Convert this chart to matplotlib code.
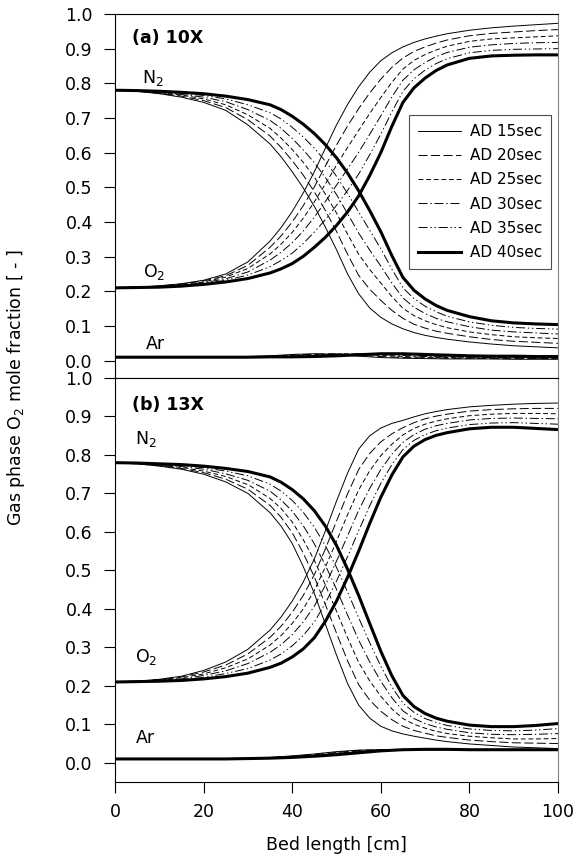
import numpy as np
import matplotlib
matplotlib.use('Agg')
import matplotlib.pyplot as plt

plt.rcParams['font.family'] = 'DejaVu Sans'
plt.rcParams['mathtext.default'] = 'regular'
plt.rcParams['lines.scale_dashes'] = False

# bed position (cm); finer spacing through the breakthrough front
x_cm = [0, 5, 10, 15, 20, 25, 30, 35, 37.5, 40, 42.5, 45, 47.5, 50, 52.5, 55, 57.5,
        60, 62.5, 65, 67.5, 70, 72.5, 75, 80, 85, 90, 95, 100]
# argon is flat, coarser grid is enough
x_ar = [0, 5, 10, 15, 20, 25, 30, 35, 40, 45, 50, 55, 60, 65, 70, 75, 80, 85, 90, 95, 100]

labels = ['AD 15sec', 'AD 20sec', 'AD 25sec', 'AD 30sec', 'AD 35sec', 'AD 40sec']

# (a) 10X -- rows follow the adsorption times above
n2_10x = [
    [.780, .777, .770, .760, .745, .722, .680, .625, .588, .545, .498, .445, .385, .320, .250, .193, .152, .125, .106, .092, .081, .073, .067, .062, .054, .048, .043, .040, .037],
    [.780, .777, .771, .763, .750, .730, .695, .648, .615, .577, .535, .487, .433, .373, .307, .246, .206, .174, .145, .122, .105, .094, .085, .079, .069, .061, .056, .053, .050],
    [.780, .778, .773, .766, .755, .738, .709, .670, .642, .609, .572, .529, .480, .426, .365, .307, .263, .224, .185, .151, .130, .115, .104, .095, .083, .075, .069, .066, .064],
    [.780, .778, .774, .768, .760, .747, .724, .693, .670, .641, .608, .571, .528, .479, .424, .368, .319, .273, .224, .181, .154, .136, .122, .112, .098, .088, .083, .080, .077],
    [.780, .779, .776, .771, .765, .755, .738, .715, .697, .673, .645, .613, .575, .532, .482, .429, .376, .323, .264, .210, .179, .157, .141, .128, .112, .102, .096, .093, .091],
    [.780, .779, .777, .774, .770, .763, .753, .738, .724, .705, .682, .655, .623, .585, .541, .490, .433, .372, .303, .240, .203, .178, .159, .145, .127, .115, .109, .106, .104],
]
o2_10x = [
    [.210, .212, .216, .222, .232, .250, .285, .345, .384, .430, .484, .545, .613, .680, .739, .790, .832, .865, .888, .905, .918, .928, .936, .943, .953, .960, .965, .969, .973],
    [.210, .212, .215, .221, .230, .245, .275, .327, .360, .400, .447, .501, .562, .622, .677, .727, .772, .812, .846, .873, .892, .905, .916, .925, .937, .944, .948, .952, .955],
    [.210, .212, .214, .219, .227, .241, .266, .308, .336, .370, .411, .458, .510, .564, .615, .664, .713, .759, .803, .841, .866, .883, .896, .907, .921, .928, .931, .934, .937],
    [.210, .211, .214, .218, .225, .236, .256, .290, .313, .340, .374, .414, .459, .506, .553, .601, .653, .706, .761, .809, .839, .860, .877, .889, .904, .911, .915, .917, .918],
    [.210, .211, .213, .216, .222, .232, .247, .271, .289, .310, .338, .371, .407, .448, .491, .538, .594, .653, .718, .777, .813, .838, .857, .871, .888, .895, .898, .899, .900],
    [.210, .211, .212, .215, .220, .227, .237, .253, .265, .280, .301, .327, .356, .390, .429, .475, .534, .600, .676, .745, .787, .815, .837, .853, .872, .879, .881, .882, .882],
]
ar_10x = [
    [.010, .010, .010, .010, .010, .011, .012, .014, .018, .020, .018, .013, .009, .007, .006, .005, .005, .005, .004, .004, .004],
    [.010, .010, .010, .010, .010, .011, .011, .013, .016, .019, .020, .016, .012, .009, .008, .007, .007, .006, .006, .006, .006],
    [.010, .010, .010, .010, .010, .010, .011, .012, .014, .017, .020, .019, .015, .012, .010, .009, .008, .008, .008, .007, .007],
    [.010, .010, .010, .010, .010, .010, .011, .011, .012, .015, .018, .020, .018, .015, .012, .011, .010, .009, .009, .009, .009],
    [.010, .010, .010, .010, .010, .010, .010, .011, .012, .013, .016, .019, .020, .018, .015, .013, .012, .011, .011, .010, .010],
    [.010, .010, .010, .010, .010, .010, .010, .011, .011, .012, .014, .017, .020, .020, .018, .016, .014, .013, .013, .012, .012],
]

# (b) 13X
n2_13x = [
    [.780, .777, .771, .763, .750, .730, .700, .650, .615, .570, .510, .440, .360, .280, .206, .150, .116, .095, .083, .075, .069, .064, .059, .055, .049, .045, .041, .039, .037],
    [.780, .777, .772, .765, .754, .737, .711, .669, .638, .598, .545, .483, .411, .337, .265, .203, .163, .134, .112, .095, .084, .077, .070, .066, .059, .055, .052, .051, .050],
    [.780, .778, .773, .768, .758, .744, .723, .687, .661, .626, .580, .526, .462, .394, .325, .261, .213, .173, .140, .115, .100, .090, .082, .076, .069, .065, .062, .062, .063],
    [.780, .778, .775, .770, .763, .751, .734, .706, .683, .654, .616, .569, .513, .451, .384, .319, .262, .212, .169, .135, .115, .102, .093, .087, .078, .074, .073, .074, .076],
    [.780, .779, .776, .773, .767, .758, .746, .724, .706, .682, .651, .612, .564, .508, .444, .377, .312, .251, .197, .155, .131, .115, .105, .097, .088, .084, .083, .085, .089],
    [.780, .779, .777, .775, .771, .765, .757, .743, .729, .710, .686, .655, .615, .565, .503, .435, .362, .290, .226, .175, .146, .128, .116, .108, .098, .094, .094, .097, .102],
]
o2_13x = [
    [.210, .212, .217, .225, .240, .262, .295, .345, .379, .420, .470, .530, .603, .680, .753, .815, .850, .870, .882, .890, .899, .907, .913, .918, .925, .929, .932, .934, .935],
    [.210, .212, .216, .223, .236, .254, .283, .326, .355, .391, .435, .489, .556, .628, .699, .762, .804, .834, .855, .871, .884, .894, .901, .906, .914, .918, .920, .921, .921],
    [.210, .212, .215, .221, .231, .247, .270, .306, .331, .362, .400, .448, .509, .576, .645, .709, .759, .798, .828, .852, .869, .880, .888, .894, .902, .906, .908, .908, .907],
    [.210, .211, .214, .218, .227, .239, .258, .287, .307, .333, .366, .407, .462, .524, .590, .656, .713, .762, .802, .833, .853, .867, .876, .882, .891, .895, .896, .895, .894],
    [.210, .211, .213, .216, .222, .232, .245, .267, .283, .304, .331, .366, .415, .472, .536, .603, .668, .726, .775, .814, .838, .853, .863, .870, .879, .883, .884, .882, .880],
    [.210, .211, .212, .214, .218, .224, .233, .248, .259, .275, .296, .325, .368, .420, .482, .550, .622, .690, .748, .795, .823, .840, .851, .858, .868, .872, .872, .869, .866],
]
ar_13x = [
    [.010, .010, .010, .010, .010, .011, .012, .014, .018, .023, .029, .033, .034, .034, .034, .034, .034, .034, .033, .033, .033],
    [.010, .010, .010, .010, .010, .011, .012, .013, .017, .021, .027, .032, .034, .034, .034, .034, .034, .034, .034, .033, .033],
    [.010, .010, .010, .010, .010, .010, .011, .013, .016, .020, .025, .030, .033, .034, .034, .034, .034, .034, .034, .034, .034],
    [.010, .010, .010, .010, .010, .010, .011, .012, .015, .019, .024, .029, .032, .034, .035, .035, .034, .034, .034, .034, .034],
    [.010, .010, .010, .010, .010, .010, .011, .012, .014, .018, .022, .027, .031, .034, .035, .035, .034, .034, .034, .034, .034],
    [.010, .010, .010, .010, .010, .010, .011, .012, .014, .017, .021, .026, .031, .034, .035, .035, .034, .034, .034, .034, .034],
]

# line width / dash pattern for each adsorption time
widths = [0.7, 0.7, 0.7, 0.7, 0.7, 2.2]
dashes = ['-', (0, (6.5, 2.5)), (0, (3.5, 2.0)), (0, (6.5, 2.0, 1.0, 2.0)),
          (0, (6.5, 2.0, 1.0, 2.0, 1.0, 2.0)), '-']

fig = plt.figure(figsize=(5.76, 8.67), dpi=100)
ax_a = fig.add_axes([0.1997, 0.564, 0.769, 0.4199])
ax_b = fig.add_axes([0.1997, 0.098, 0.769, 0.466])

panels = [(ax_a, n2_10x, o2_10x, ar_10x, '(a) 10X'),
          (ax_b, n2_13x, o2_13x, ar_13x, '(b) 13X')]

for ax, n2, o2, ar, title in panels:
    for i in range(6):
        kw = dict(color='black', lw=widths[i], ls=dashes[i])
        ax.plot(x_cm, n2[i], label=labels[i], **kw)
        ax.plot(x_cm, o2[i], **kw)
        ax.plot(x_ar, ar[i], **kw)
    ax.set_xlim(0, 100)
    ax.set_ylim(-0.05, 1.0)
    ax.set_yticks(np.arange(0, 1.01, 0.1))
    ax.set_yticklabels(['%.1f' % v for v in np.arange(0, 1.01, 0.1)])
    ax.tick_params(direction='out', length=8, width=0.8, labelsize=12.5)
    ax.tick_params(axis='y', pad=8)
    ax.tick_params(axis='x', pad=7)
    for s in ['left', 'bottom', 'top']:
        ax.spines[s].set_linewidth(0.8)
    ax.spines['right'].set_color('0.5')
    ax.text(3.8, 0.93, title, fontsize=12.5, fontweight='bold', va='center')

ax_a.tick_params(axis='x', bottom=False, labelbottom=False)
ax_b.set_xticks([0, 20, 40, 60, 80, 100])

# species labels
ax_a.text(6.0, 0.815, 'N$_2$', fontsize=12.5, va='center')
ax_a.text(6.3, 0.255, 'O$_2$', fontsize=12.5, va='center')
ax_a.text(6.9, 0.049, 'Ar', fontsize=12.5, va='center')
ax_b.text(4.5, 0.841, 'N$_2$', fontsize=12.5, va='center')
ax_b.text(4.4, 0.275, 'O$_2$', fontsize=12.5, va='center')
ax_b.text(4.7, 0.064, 'Ar', fontsize=12.5, va='center')

leg = ax_a.legend(loc='upper right', bbox_to_anchor=(0.985, 0.7225), fontsize=11,
                  fancybox=False, edgecolor='0.3', framealpha=1, handlelength=2.8,
                  handletextpad=0.6, labelspacing=0.6, borderpad=0.6, borderaxespad=0)
leg.get_frame().set_linewidth(0.8)

fig.text(0.028, 0.5525, 'Gas phase O$_2$ mole fraction [ - ]', rotation=90,
         ha='center', va='center', fontsize=12.5)
fig.text(0.584, 0.025, 'Bed length [cm]', ha='center', va='center', fontsize=12.5)

fig.savefig('out.png', dpi=100)
